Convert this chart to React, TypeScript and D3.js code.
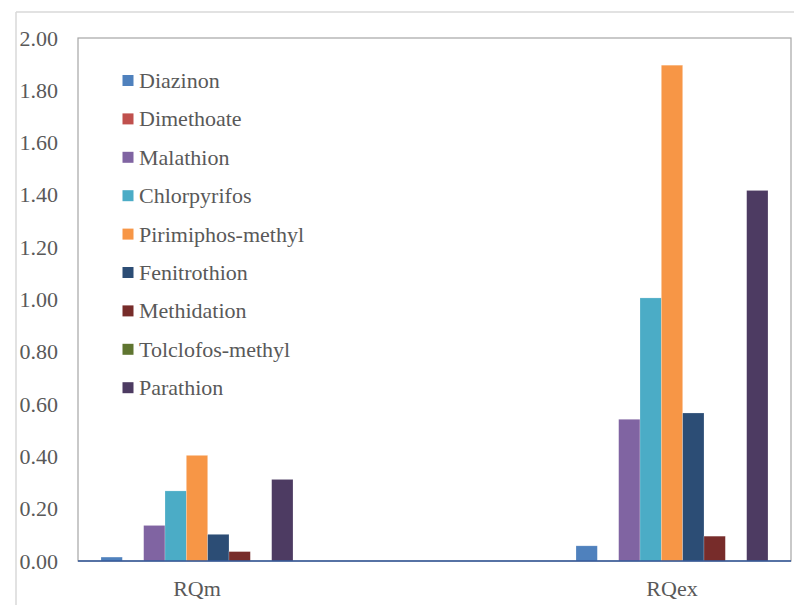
import React from "react";
import * as d3 from "d3";

const categories = ["RQm", "RQex"];
const seriesNames = [
  "Diazinon",
  "Dimethoate",
  "Malathion",
  "Chlorpyrifos",
  "Pirimiphos-methyl",
  "Fenitrothion",
  "Methidation",
  "Tolclofos-methyl",
  "Parathion",
];
const rqmValues = [0.015, 0, 0.136, 0.268, 0.404, 0.102, 0.036, 0, 0.312];
const rqexValues = [0.058, 0, 0.542, 1.006, 1.896, 0.566, 0.095, 0, 1.417];
const seriesColors = [
  "#4f81bd",
  "#c0504d",
  "#8064a2",
  "#4bacc6",
  "#f79646",
  "#2c4d75",
  "#772c2a",
  "#5f7530",
  "#4d3b62",
];
const yTicks = [0, 0.2, 0.4, 0.6, 0.8, 1.0, 1.2, 1.4, 1.6, 1.8, 2.0];

const W = 794;
const H = 605;
const plot = { left: 78, right: 791, top: 38, bottom: 561 };
const textStyle: React.CSSProperties = {
  fontFamily: '"Liberation Serif", "Times New Roman", Times, "DejaVu Serif", serif',
  fontSize: "22px",
  fill: "#595959",
};

export default function App() {
  const valuesByCategory = [rqmValues, rqexValues];

  const y = d3.scaleLinear().domain([0, 2]).range([plot.bottom, plot.top]);
  const xCat = d3.scalePoint<string>().domain(categories).range([197, 672]);
  const xSeries = d3
    .scaleBand<string>()
    .domain(seriesNames)
    .range([-96, 96])
    .padding(0);

  return (
    <svg
      width={W}
      height={H}
      style={{ position: "absolute", left: 0, top: 0, background: "#fff" }}
    >
      {/* outer chart frame edges */}
      <line x1={16} x2={W} y1={12} y2={12} stroke="#d9d9d9" strokeWidth={1.5} />
      <line x1={16} x2={16} y1={12} y2={H} stroke="#d9d9d9" strokeWidth={1.5} />

      {/* plot area border */}
      <rect
        x={plot.left}
        y={plot.top}
        width={plot.right - plot.left}
        height={plot.bottom - plot.top}
        fill="none"
        stroke="#a6a6a6"
        strokeWidth={1.2}
      />

      {/* bars */}
      {categories.map((cat, ci) =>
        seriesNames.map((s, si) => {
          const v = valuesByCategory[ci][si];
          if (v <= 0) return null;
          const x0 = (xCat(cat) as number) + (xSeries(s) as number);
          return (
            <rect
              key={cat + s}
              x={x0}
              y={y(v)}
              width={xSeries.bandwidth()}
              height={y(0) - y(v)}
              fill={seriesColors[si]}
              stroke="#ffffff"
              strokeOpacity={0.35}
              strokeWidth={0.6}
            />
          );
        })
      )}

      {/* category axis */}
      <line
        x1={plot.left}
        x2={plot.right}
        y1={plot.bottom}
        y2={plot.bottom}
        stroke="#2f5597"
        strokeWidth={1.6}
      />

      {/* y tick labels */}
      {yTicks.map((t) => (
        <text
          key={t}
          x={58}
          y={y(t)}
          textAnchor="end"
          dominantBaseline="central"
          style={textStyle}
        >
          {t.toFixed(2)}
        </text>
      ))}

      {/* category labels */}
      {categories.map((c) => (
        <text
          key={c}
          x={xCat(c) as number}
          y={588}
          textAnchor="middle"
          dominantBaseline="central"
          style={textStyle}
        >
          {c}
        </text>
      ))}

      {/* legend */}
      {seriesNames.map((s, i) => {
        const cy = 80.5 + i * 38.4;
        return (
          <g key={s}>
            <rect x={122.5} y={cy - 5.5} width={11} height={11} fill={seriesColors[i]} />
            <text x={139} y={cy} dominantBaseline="central" style={textStyle}>
              {s}
            </text>
          </g>
        );
      })}
    </svg>
  );
}
